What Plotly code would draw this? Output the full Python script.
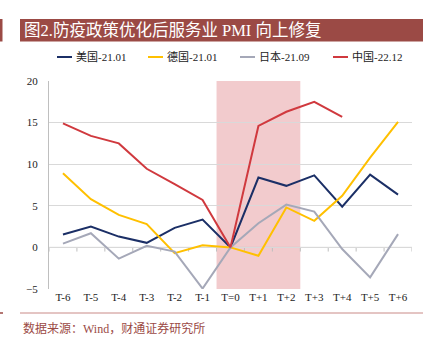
import plotly.graph_objects as go

categories = ["T-6", "T-5", "T-4", "T-3", "T-2", "T-1", "T=0", "T+1", "T+2", "T+3", "T+4", "T+5", "T+6"]
us_2101 = [1.55, 2.5, 1.3, 0.55, 2.35, 3.35, 0.0, 8.4, 7.4, 8.65, 4.9, 8.75, 6.35]
de_2101 = [8.9, 5.8, 3.9, 2.8, -0.7, 0.25, 0.0, -1.0, 4.8, 3.2, 6.2, 10.8, 15.1]
jp_2109 = [0.45, 1.7, -1.35, 0.2, -0.5, -4.95, 0.0, 2.9, 5.15, 4.3, -0.2, -3.6, 1.6]
cn_2212 = [14.9, 13.4, 12.5, 9.45, 7.6, 5.7, 0.0, 14.6, 16.3, 17.5, 15.7, None, None]
series_names = ["美国-21.01", "德国-21.01", "日本-21.09", "中国-22.12"]
series_colors = ["#1B2F66", "#FFC000", "#A5A8B8", "#D0393E"]
y_ticks = [-5, 0, 5, 10, 15, 20]
title_text = "图2.防疫政策优化后服务业 PMI 向上修复"
source_text = "数据来源：Wind，财通证券研究所"

W, H = 431, 348
L, R, T, B = 49, 19, 81, 59
pw, ph = W - L - R, H - T - B

def px(x):
    return (x - L) / pw

def py(y):
    return (H - B - y) / ph

SERIF = "Liberation Serif, Noto Sans CJK SC, serif"

fig = go.Figure()
xi = list(range(len(categories)))
all_series = [us_2101, de_2101, jp_2109, cn_2212]
for name, vals, col in zip(series_names, all_series, series_colors):
    fig.add_trace(go.Scatter(x=xi, y=vals, mode="lines", name=name,
                             line=dict(color=col, width=2), showlegend=False))

shapes = []
# shaded region T=0..T+2
shapes.append(dict(type="rect", xref="x", yref="y", x0=5.5, x1=8.5, y0=-5, y1=20,
                   fillcolor="#F2CBCD", line=dict(width=0), layer="below"))
# zero line and its ticks
for k in range(len(categories) + 1):
    shapes.append(dict(type="line", xref="x", yref="y", x0=k - 0.5, x1=k - 0.5, y0=0, y1=-0.5,
                       line=dict(color="#BFBFBF", width=1), layer="below"))
shapes.append(dict(type="line", xref="x", yref="y", x0=-0.5, x1=12.5, y0=0, y1=0,
                   line=dict(color="#BFBFBF", width=1), layer="below"))
# title bar
shapes.append(dict(type="rect", xref="paper", yref="paper", x0=px(20), x1=px(423), y0=py(41.5), y1=py(19),
                   fillcolor="#9B4A45", line=dict(width=0)))
shapes.append(dict(type="rect", xref="paper", yref="paper", x0=px(0), x1=px(2.5), y0=py(41.5), y1=py(19),
                   fillcolor="#9B4A45", line=dict(width=0)))
# bottom rule
shapes.append(dict(type="line", xref="paper", yref="paper", x0=px(20), x1=px(423), y0=py(313), y1=py(313),
                   line=dict(color="#C98A87", width=1)))
shapes.append(dict(type="line", xref="paper", yref="paper", x0=px(0), x1=px(3), y0=py(313), y1=py(313),
                   line=dict(color="#9B4A45", width=1.5)))

annotations = [
    dict(text=title_text, xref="paper", yref="paper", x=px(22), y=py(30.5), xanchor="left", yanchor="middle",
         showarrow=False, font=dict(family=SERIF, size=16.5, color="white")),
    dict(text=source_text, xref="paper", yref="paper", x=px(21), y=py(328), xanchor="left", yanchor="middle",
         showarrow=False, font=dict(family=SERIF, size=12, color="#9B4A45")),
]
# manual legend
leg_x = [57, 148, 240, 333]
for lx, name, col in zip(leg_x, series_names, series_colors):
    shapes.append(dict(type="line", xref="paper", yref="paper", x0=px(lx), x1=px(lx + 15), y0=py(57), y1=py(57),
                       line=dict(color=col, width=2)))
    annotations.append(dict(text=name, xref="paper", yref="paper", x=px(lx + 17), y=py(57), xanchor="left",
                            yanchor="middle", showarrow=False,
                            font=dict(family=SERIF, size=11, color="#222222")))

fig.update_layout(
    width=W, height=H, margin=dict(l=L, r=R, t=T, b=B),
    paper_bgcolor="white", plot_bgcolor="white",
    shapes=shapes, annotations=annotations, showlegend=False,
    xaxis=dict(tickmode="array", tickvals=xi, ticktext=categories, range=[-0.5, 12.5],
               showgrid=False, zeroline=False, showline=False, ticks="",
               tickfont=dict(family=SERIF, size=11, color="#222222")),
    yaxis=dict(range=[-5, 20], tickvals=y_ticks, showgrid=True, gridcolor="#D9D9D9", gridwidth=1,
               zeroline=False, showline=True, linecolor="#BFBFBF", linewidth=1, ticks="",
               tickfont=dict(family=SERIF, size=11, color="#222222"), ticklabelstandoff=8),
)

fig.write_html("out.html")
